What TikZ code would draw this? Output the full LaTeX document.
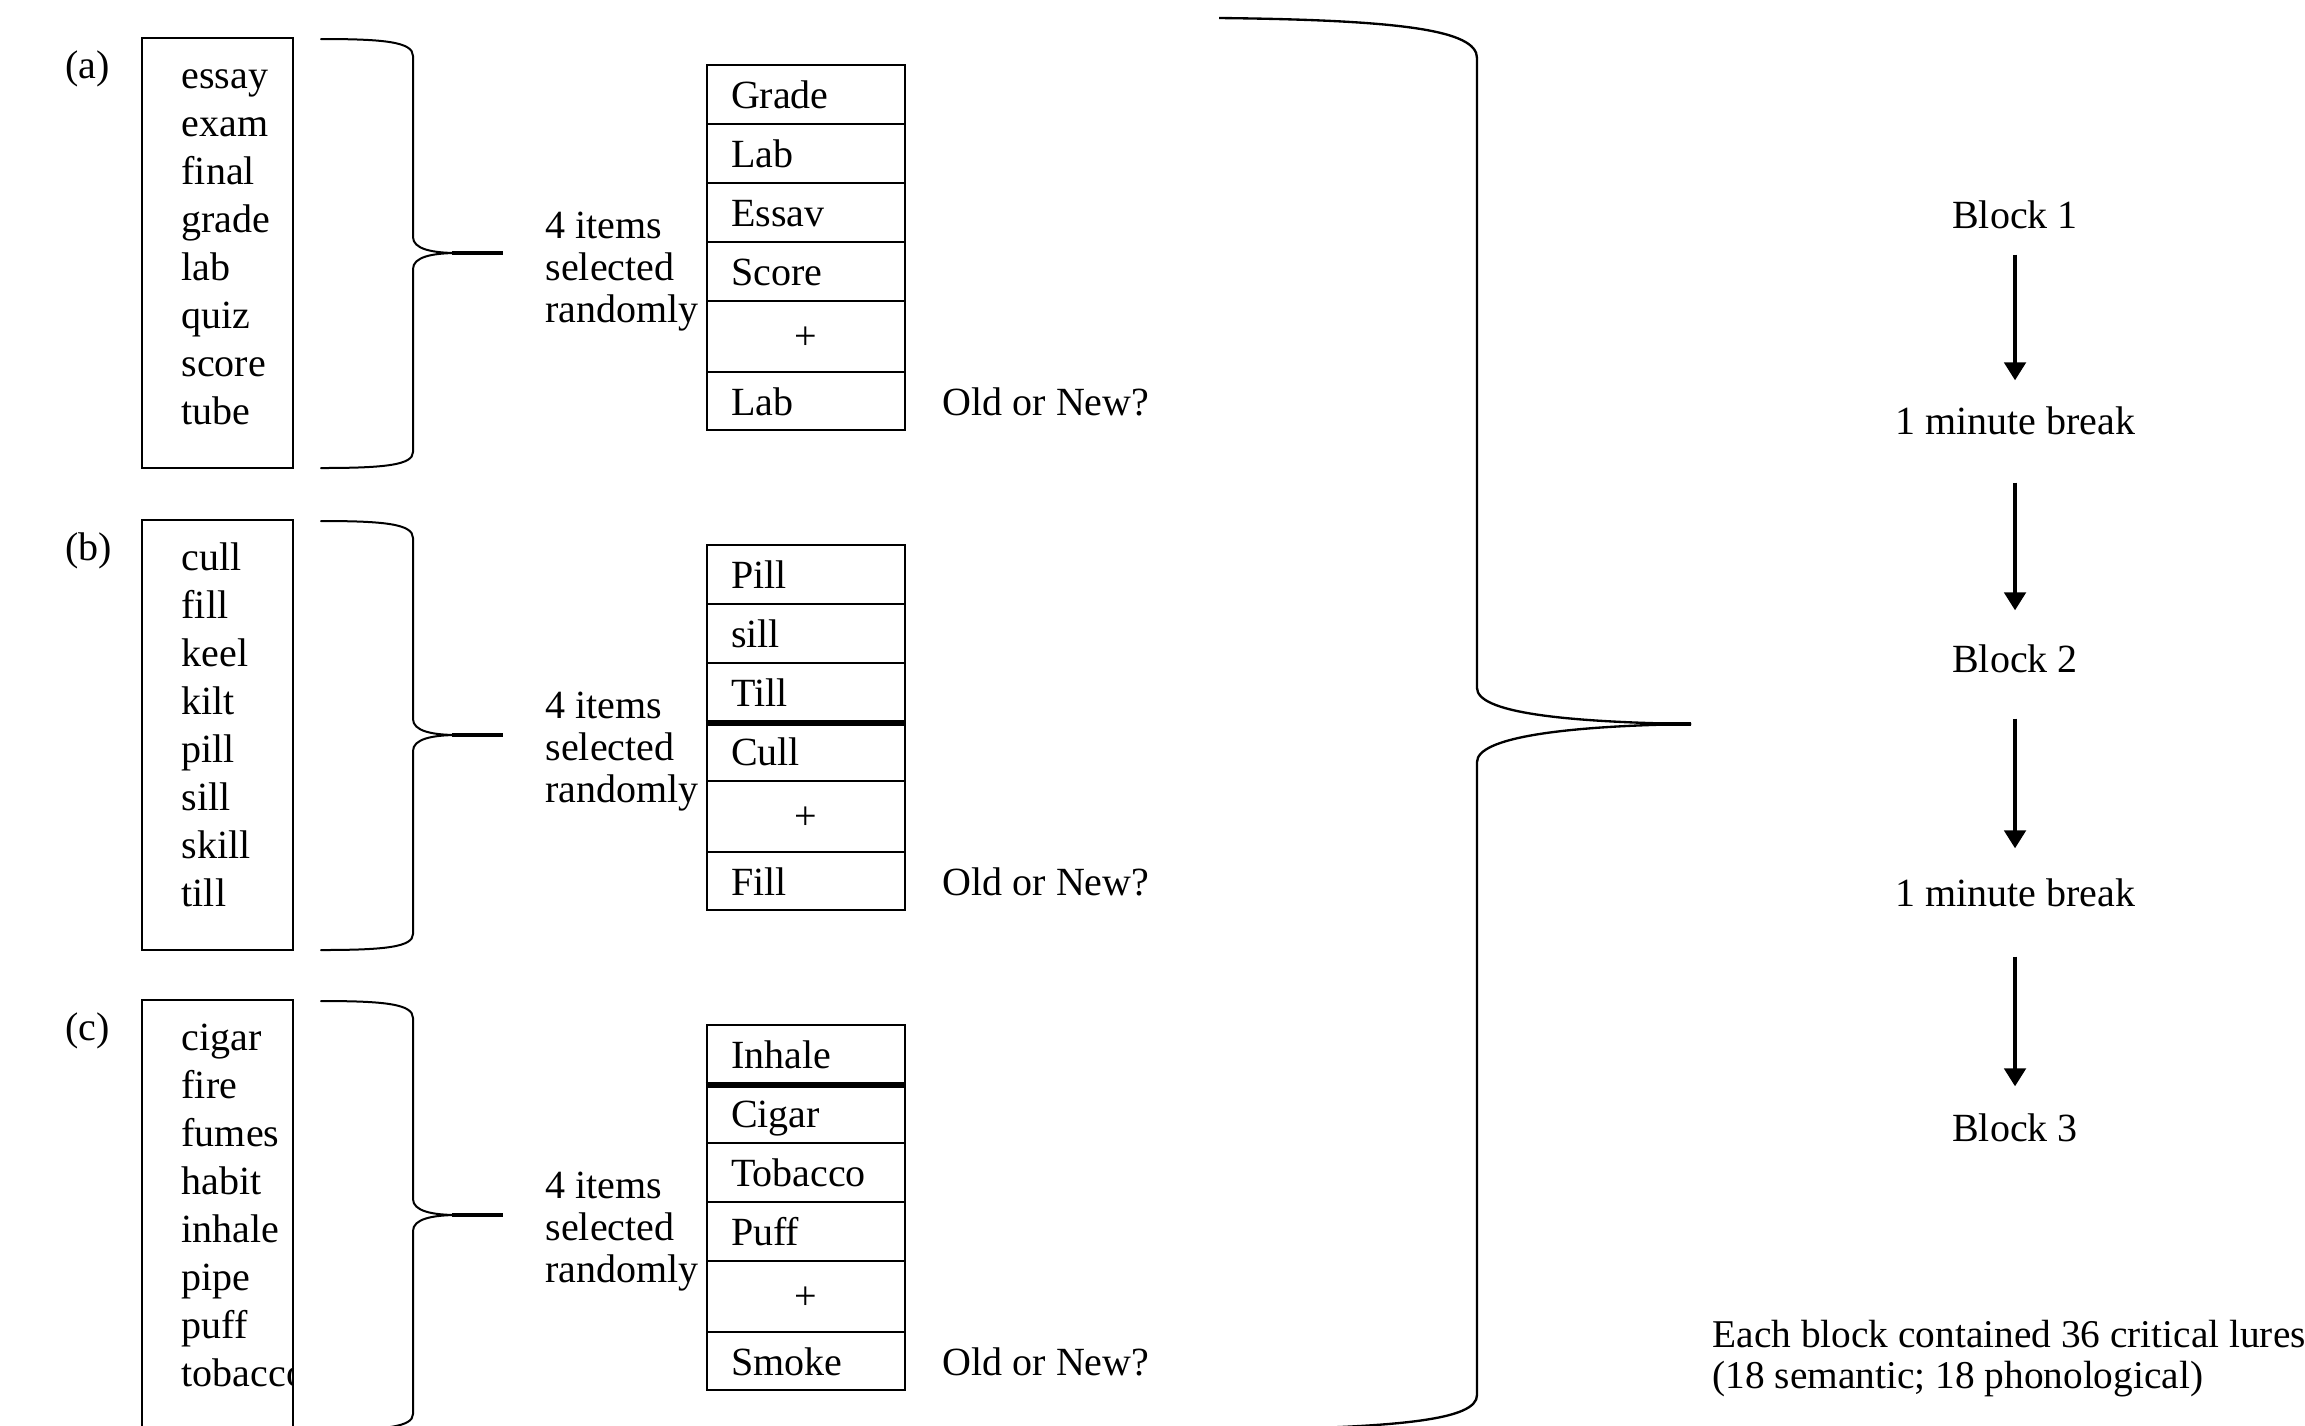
\documentclass[tikz,border=0pt]{standalone}
\usepackage{fontspec}
\setmainfont{Liberation Serif}
\usetikzlibrary{arrows.meta}
\tikzset{
  every node/.style={font=\fontsize{12}{14}\selectfont, inner sep=0pt},
  word/.style={anchor=base west},
  listbox/.style={draw, line width=0.8pt, minimum width=45.3pt, minimum height=129pt},
  cell/.style={draw, line width=0.8pt, minimum width=59.4pt, text width=45pt,
    inner xsep=7.2pt, inner ysep=0pt, align=left, text height=8.4pt, text depth=0pt},
  pluscell/.style={cell, align=center, text height=7.5pt},
  bracepath/.style={line width=0.6pt, line cap=round},
  bracestem/.style={line width=1.3pt},
  sepline/.style={line width=1.8pt},
  flowarrow/.style={line width=1.2pt, -{Triangle[length=5.4pt,width=6.4pt]}},
  flowtext/.style={anchor=base, text height=8.1pt, text depth=0pt},
  notetext/.style={anchor=base west, font=\fontsize{11.8}{14}\selectfont},
}
% #1 prefix, #2 dy left part, #3 dy stack, #4 label, #5 word list, #6 four shown items, #7 test item
\newcommand\drawpanel[7]{%
  \node[word] (#1lab) at (65,{78+#2}) {(#4)};
  \node[listbox] (#1box) at (217.5,{253+#2}) {};
  \begin{scope}
    \clip (142,{38+#2}) rectangle (293,{468+#2});
    \foreach \w [count=\i] in {#5} \node[word] (#1w\i) at (181,{40+48*\i+#2}) {\w};
  \end{scope}
  \draw[bracepath] (321,{39+#2}) .. controls (385,{39+#2}) and (413,{42+#2}) .. (413,{56+#2})
     -- (413,{237+#2}) .. controls (413,{249+#2}) and (432,{253+#2}) .. (458,{253+#2});
  \draw[bracepath] (458,{253+#2}) .. controls (432,{253+#2}) and (413,{257+#2}) .. (413,{269+#2})
     -- (413,{452+#2}) .. controls (413,{465+#2}) and (385,{468+#2}) .. (321,{468+#2});
  \draw[bracestem] (452,{253+#2}) -- (503,{253+#2});
  \node[word] (#1s1) at (545,{238+#3}) {4 items};
  \node[word] (#1s2) at (545,{280+#3}) {selected};
  \node[word] (#1s3) at (545,{322+#3}) {randomly};
  \foreach \t [count=\i] in {#6}
    \node[cell, minimum height=17.7pt] (#1c\i) at (806,{35.5+59*\i+#3}) {\t};
  \node[pluscell, minimum height=21.3pt] (#1plus) at (806,{336.5+#3}) {+};
  \node[cell, minimum height=17.4pt] (#1test) at (806,{401+#3}) {#7};
  \node[word] (#1q) at (942,{415+#3}) {Old or New?};
}
\begin{document}
\begin{tikzpicture}[x=0.3pt, y=-0.3pt]
\useasboundingbox (0,0) rectangle (2305,1425);
\fill[white] (0,0) rectangle (2305,1425);

\drawpanel{a}{0}{0}{a}{essay,exam,final,grade,lab,quiz,score,tube}{Grade,Lab,Essav,Score}{Lab}
\drawpanel{b}{482}{480}{b}{cull,fill,keel,kilt,pill,sill,skill,till}{Pill,sill,Till,Cull}{Fill}
\drawpanel{c}{962}{960}{c}{cigar,fire,fumes,habit,inhale,pipe,puff,tobacco}{Inhale,Cigar,Tobacco,Puff}{Smoke}
\draw[sepline] (bc3.south west) -- (bc3.south east);
\draw[sepline] (cc1.south west) -- (cc1.south east);

% big brace
\draw[line width=0.7pt] (1219,18) .. controls (1400,20) and (1477,30) .. (1477,58)
   -- (1477,688) .. controls (1477,712) and (1560,722) .. (1691,724);
\draw[line width=0.7pt] (1691,724) .. controls (1560,726) and (1477,738) .. (1477,762)
   -- (1477,1395) .. controls (1477,1420) and (1400,1428) .. (1219,1430);
\draw[line width=1.1pt] (1650,724) -- (1691,724);

% flow
\node[flowtext] (fb1) at (2015,228) {Block 1};
\node[flowtext] (fm1) at (2015,434) {1 minute break};
\node[flowtext] (fb2) at (2015,672) {Block 2};
\node[flowtext] (fm2) at (2015,906) {1 minute break};
\node[flowtext] (fb3) at (2015,1141) {Block 3};
\draw[flowarrow, shorten <=7.8pt, shorten >=7.8pt] (fb1) -- (fm1);
\draw[flowarrow, shorten <=14.4pt, shorten >=10.2pt] (fm1) -- (fb2);
\draw[flowarrow, shorten <=13.8pt, shorten >=9pt] (fb2) -- (fm2);
\draw[flowarrow, shorten <=15pt, shorten >=8.1pt] (fm2) -- (fb3);

\node[notetext] (note1) at (1712,1347) {Each block contained 36 critical lures};
\node[notetext] (note2) at (1712,1388) {(18 semantic; 18 phonological)};
\end{tikzpicture}
\end{document}
